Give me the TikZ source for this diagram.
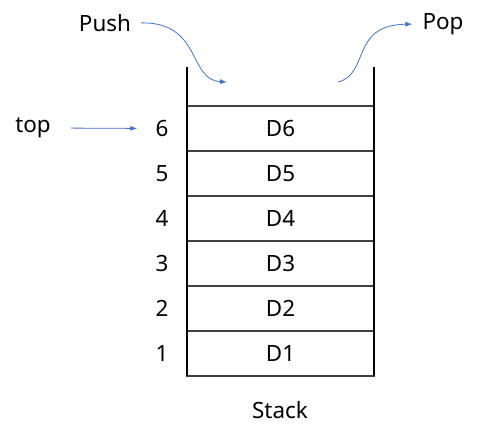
\documentclass[tikz,border=0pt]{standalone}
\usepackage{fontspec}
\setmainfont{Noto Sans}
\usetikzlibrary{arrows.meta,positioning}
\definecolor{arrowblue}{RGB}{68,114,196}
\tikzset{
	cell/.style={draw=black!75, line width=1.1bp, minimum width=187bp, minimum height=45bp, inner sep=0pt},
	wall/.style={line width=2bp, black},
	txt/.style={inner sep=0pt, font=\fontsize{22.5}{26}\selectfont},
	pointer/.style={arrowblue, line width=0.8bp, -{Latex[length=7bp,width=5bp]}}
}
\begin{document}
\begin{tikzpicture}[x=1bp,y=1bp]
	\useasboundingbox (0,0) rectangle (479,446);
	% Cells with their indices
	\foreach \i in {1,...,6}
	{
		\node[cell, txt] (c\i) at (280.5,{92.5+45*(\i-1)}) {D\i};
		\node[txt] (n\i) at (162,{92.5+45*(\i-1)}) {\i};
	}
	% Walls of the stack
	\coordinate (wlt) at (187,379);
	\coordinate (wlb) at (187,70);
	\coordinate (wrt) at (374,379);
	\coordinate (wrb) at (374,70);
	\draw[wall] (wlt) -- (wlb);
	\draw[wall] (wrt) -- (wrb);
	\node[txt] (stack) at (280,36) {Stack};
	
	% Top pointer
	\node[txt] (top) at (33,318) {top};
	\draw[pointer, shorten <=20bp, shorten >=18bp] (top.east) -- (n6.west);
	
	% Push and pop
	\node[txt] (push) at (105,423) {Push};
	\node[txt] (pop) at (443,422) {Pop};
	\coordinate (pushin) at (227,364);
	\coordinate (popout) at (338,364);
	\draw[pointer, shorten <=10bp] (push.east) .. controls (202,424) and (188,366) .. (pushin);
	\draw[pointer, shorten >=10bp] (popout) .. controls (370,372) and (350,421) .. (pop.west);
\end{tikzpicture}
\end{document}
